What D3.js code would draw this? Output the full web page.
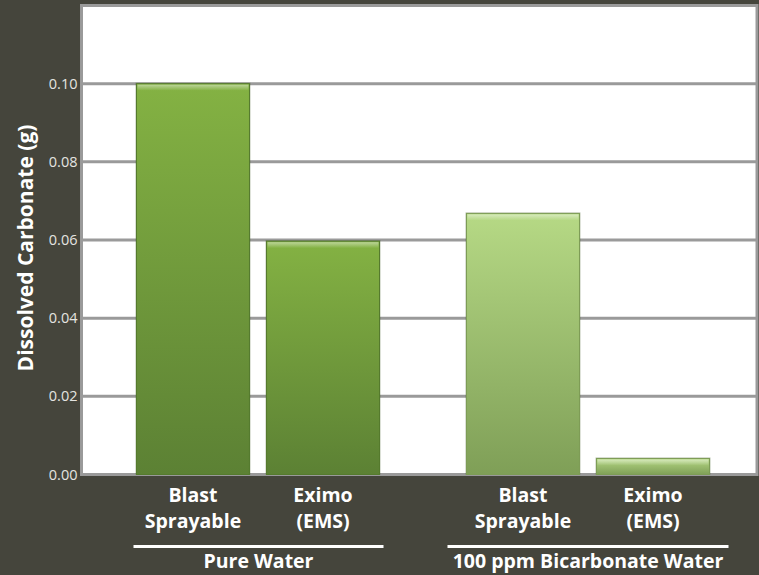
<!DOCTYPE html>
<html><head><meta charset="utf-8">
<script src="https://cdn.jsdelivr.net/npm/d3@7/dist/d3.min.js"></script>
<style>
html,body{margin:0;padding:0;background:#45453c;}
svg{display:block;}
</style></head>
<body>
<svg id="chart" width="759" height="575"></svg>
<script>
const groups = ["Pure Water", "100 ppm Bicarbonate Water"];
const seriesNames = ["Blast Sprayable", "Eximo (EMS)"];
const seriesLabelLines = [["Blast", "Sprayable"], ["Eximo", "(EMS)"]];
const pureWaterValues = [0.100, 0.0597];
const bicarbonateValues = [0.0668, 0.0041];
const yTicks = [0.00, 0.02, 0.04, 0.06, 0.08, 0.10];
const yTitle = "Dissolved Carbonate (g)";

const valuesByGroup = [pureWaterValues, bicarbonateValues];

const svg = d3.select("#chart");
const W = 759, H = 575;
svg.append("rect").attr("width", W).attr("height", H).attr("fill", "#45453c");

const plot = {left: 81.5, right: 757, top: 5.5, bottom: 474.5};

const y = d3.scaleLinear().domain([0, 0.12]).range([plot.bottom, plot.top]);
const x0 = d3.scaleBand().domain(groups).range([93, 753]).paddingInner(0).paddingOuter(0);
const x1 = d3.scaleBand().domain(seriesNames).range([0, x0.bandwidth()]).paddingInner(0.131).paddingOuter(0.3345);

const defs = svg.append("defs");
function grad(id, top, bottom) {
  const g = defs.append("linearGradient").attr("id", id).attr("x1", 0).attr("y1", 0).attr("x2", 0).attr("y2", 1);
  g.append("stop").attr("offset", "0%").attr("stop-color", top);
  g.append("stop").attr("offset", "100%").attr("stop-color", bottom);
}
grad("g0", "#84b243", "#5c8134");
grad("g1", "#b6d985", "#7f9f57");
const edge = defs.append("linearGradient").attr("id", "hl").attr("x1", 0).attr("y1", 0).attr("x2", 0).attr("y2", 1);
edge.append("stop").attr("offset", "0%").attr("stop-color", "#ffffff").attr("stop-opacity", 0.45);
edge.append("stop").attr("offset", "100%").attr("stop-color", "#ffffff").attr("stop-opacity", 0);

// plot area
svg.append("rect").attr("x", plot.left).attr("y", plot.top)
  .attr("width", plot.right - plot.left).attr("height", plot.bottom - plot.top)
  .attr("fill", "#ffffff").attr("stroke", "#9a9a9a").attr("stroke-width", 3);

// gridlines
svg.append("g").selectAll("line").data(yTicks.filter(d => d > 0)).join("line")
  .attr("x1", plot.left).attr("x2", plot.right)
  .attr("y1", d => y(d)).attr("y2", d => y(d))
  .attr("stroke", "#9a9a9a").attr("stroke-width", 3);

// y axis labels
const yAxis = d3.axisLeft(y).tickValues(yTicks).tickFormat(d3.format(".2f")).tickSize(0).tickPadding(3);
const ya = svg.append("g").attr("transform", `translate(${plot.left - 1},0)`).call(yAxis);
ya.select(".domain").remove();
ya.selectAll("text").attr("fill", "#e4e4e0").attr("font-family", "'Open Sans', sans-serif").attr("font-size", 14.5);

// bars
const gGroups = svg.append("g").selectAll("g").data(groups).join("g")
  .attr("transform", d => `translate(${x0(d)},0)`);
gGroups.each(function(gname, gi) {
  const g = d3.select(this);
  const vals = valuesByGroup[gi];
  seriesNames.forEach((s, si) => {
    const bx = x1(s), bw = x1.bandwidth();
    const by = y(vals[si]), bh = y(0) - y(vals[si]);
    g.append("rect").attr("x", bx - 1).attr("y", by - 1).attr("width", bw + 2).attr("height", bh + 1)
      .attr("fill", "#3d5520").attr("opacity", 0.35);
    g.append("rect").attr("x", bx).attr("y", by).attr("width", bw).attr("height", bh)
      .attr("fill", `url(#g${gi})`).attr("stroke", gi === 0 ? "#557a2e" : "#7d9c56").attr("stroke-width", 1);
    g.append("rect").attr("x", bx + 1).attr("y", by + 1).attr("width", bw - 2).attr("height", Math.min(6, bh - 2))
      .attr("fill", "url(#hl)");
  });
});

// category labels
const font = "'Open Sans', sans-serif";
const labelSize = 19.5;
const lineExt = [[3, 4], [19, 19]];
groups.forEach((gname, gi) => {
  seriesNames.forEach((s, si) => {
    const cx = x0(gname) + x1(s) + x1.bandwidth() / 2;
    const t = svg.append("text").attr("x", cx).attr("y", 502).attr("text-anchor", "middle")
      .attr("fill", "#ffffff").attr("font-family", font).attr("font-weight", "bold").attr("font-size", labelSize);
    seriesLabelLines[si].forEach((line, li) => {
      t.append("tspan").attr("x", cx).attr("dy", li === 0 ? 0 : 26).text(line);
    });
  });
  const first = x0(gname) + x1(seriesNames[0]);
  const last = x0(gname) + x1(seriesNames[1]) + x1.bandwidth();
  const lx1 = first - lineExt[gi][0], lx2 = last + lineExt[gi][1];
  svg.append("line").attr("x1", lx1).attr("x2", lx2).attr("y1", 546.5).attr("y2", 546.5)
    .attr("stroke", "#ffffff").attr("stroke-width", 3);
  svg.append("text").attr("x", (lx1 + lx2) / 2).attr("y", 568).attr("text-anchor", "middle")
    .attr("fill", "#ffffff").attr("font-family", font).attr("font-weight", "bold").attr("font-size", labelSize)
    .text(gname);
});

// y title
svg.append("text").attr("transform", `translate(33,248) rotate(-90)`)
  .attr("text-anchor", "middle").attr("fill", "#ffffff").attr("font-family", font)
  .attr("font-weight", "bold").attr("font-size", 21).text(yTitle);
</script>
</body></html>
